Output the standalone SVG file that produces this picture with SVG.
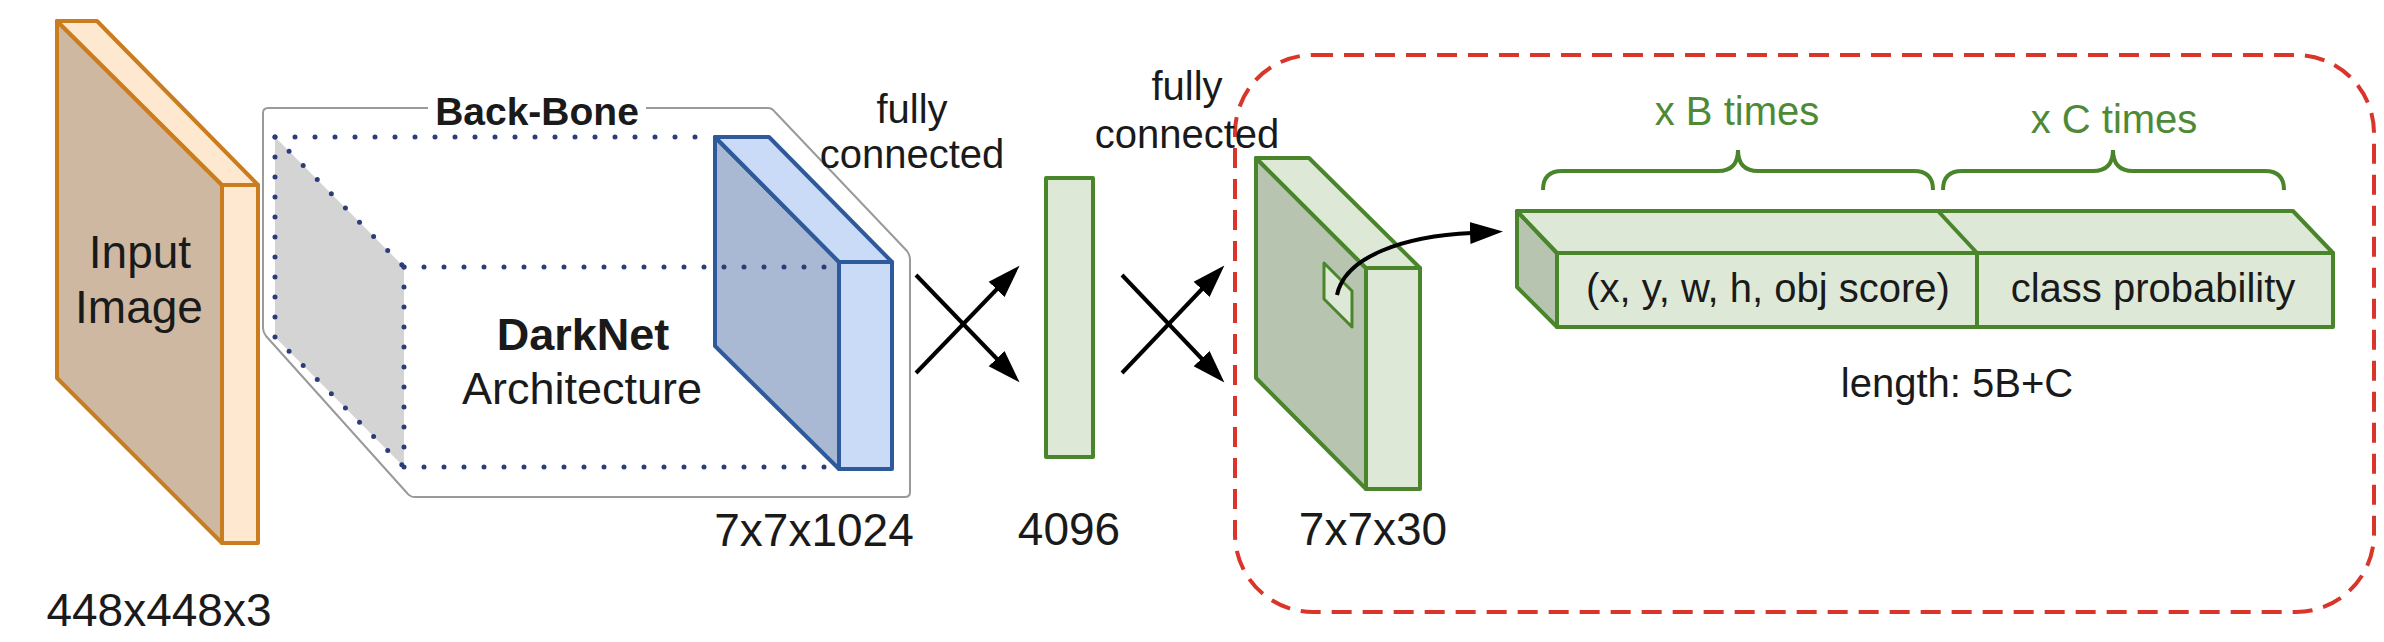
<svg xmlns="http://www.w3.org/2000/svg" width="2384" height="642" viewBox="0 0 2384 642">
<defs>
<style>
.t{font-family:"Liberation Sans",Arial,sans-serif;fill:#1a1a1a;text-anchor:middle}
.g{fill:#4e8a35}
.b{font-weight:bold}
.or{stroke:#c97d1f;stroke-width:4;stroke-linejoin:round}
.bl{stroke:#2e5a9c;stroke-width:4;stroke-linejoin:round}
.gr{stroke:#4a852b;stroke-width:4;stroke-linejoin:round}
.lg{fill:#dde9d6}
.dg{fill:#b7c4b0}
.dot{fill:none;stroke:#2a3d7a;stroke-width:5;stroke-linecap:round;stroke-dasharray:0 20}
.arr{fill:none;stroke:#000;stroke-width:4}
</style>
<marker id="ah" markerUnits="userSpaceOnUse" viewBox="0 -12 34 24" markerWidth="34" markerHeight="24" refX="2" refY="0" orient="auto">
<path d="M0,-11 L33,0 L0,11 Z" fill="#000"/>
</marker>
</defs>
<rect width="2384" height="642" fill="#fff"/>

<g id="input-image">
<polygon class="or" points="57,21 222,185 222,543 57,378" fill="#cfb8a2"/>
<polygon class="or" points="57,21 97,21 258,185 222,185" fill="#fee8cf"/>
<rect class="or" x="222" y="185" width="36" height="358" fill="#fee8cf"/>
<text class="t" x="140" y="268" font-size="46">Input</text>
<text class="t" x="139" y="323" font-size="46">Image</text>
<text class="t" x="159" y="626" font-size="46">448x448x3</text>
</g>

<g id="backbone">
<path d="M646,108 L768,108 Q772,108 775,112 L907,251 Q910,255 910,260 L910,492 Q910,497 905,497 L415,497 Q410,497 407,493 L266,336 Q263,332 263,328 L263,113 Q263,108 268,108 L428,108" fill="#fff" stroke="#9a9a9a" stroke-width="2"/>
<text class="t b" x="537" y="125" font-size="39">Back-Bone</text>
<polygon points="275,137 404,267 404,467 275,337" fill="#d4d4d4"/>
<path class="dot" d="M275,137 L715,137"/>
<path class="dot" d="M275,137 L404,267 M275,337 L404,467 M275,137 L275,337 M404,267 L404,467 M404,467 L839,467"/>
<polygon class="bl" points="715,137 839,262 839,469 715,346" fill="#a9b8d3"/>
<polygon class="bl" points="715,137 769,137 892,262 839,262" fill="#c9dbf7"/>
<rect class="bl" x="839" y="262" width="53" height="207" fill="#c9dbf7"/>
<path class="dot" d="M404,267 L839,267"/>
<text class="t b" x="583" y="350" font-size="45">DarkNet</text>
<text class="t" x="582" y="404" font-size="45">Architecture</text>
<text class="t" x="814" y="546" font-size="46">7x7x1024</text>
</g>

<g id="fc-4096">
<rect class="gr lg" x="1046" y="178" width="47" height="279"/>
<text class="t" x="1069" y="545" font-size="46">4096</text>
</g>

<g id="output-region">
<rect x="1235" y="55" width="1139" height="557" rx="78" ry="78" fill="none" stroke="#d9352a" stroke-width="4" stroke-dasharray="20 11"/>
</g>

<g id="output-7x7x30">
<polygon class="gr dg" points="1256,158 1366,268 1366,489 1256,378"/>
<polygon class="gr lg" points="1256,158 1309,158 1420,268 1366,268"/>
<rect class="gr lg" x="1366" y="268" width="54" height="221"/>
<polygon class="lg" points="1324,263 1352,291 1352,327 1324,299" stroke="#4a852b" stroke-width="3" stroke-linejoin="round"/>
<text class="t" x="1373" y="545" font-size="46">7x7x30</text>
</g>

<g id="cell-vector">
<polygon class="gr dg" points="1517,211 1557,253 1557,327 1517,287"/>
<polygon class="gr lg" points="1517,211 2293,211 2333,253 1557,253"/>
<rect class="gr lg" x="1557" y="253" width="776" height="74"/>
<line class="gr" x1="1938" y1="211" x2="1977" y2="253"/>
<line class="gr" x1="1977" y1="253" x2="1977" y2="327"/>
<text class="t" x="1768" y="302" font-size="40">(x, y, w, h, obj score)</text>
<text class="t" x="2153" y="302" font-size="40">class probability</text>
<text class="t" x="1957" y="397" font-size="40">length: 5B+C</text>
<path d="M1543,190 Q1543,171 1562,171 L1718,171 Q1738,171 1738,150 Q1738,171 1758,171 L1914,171 Q1933,171 1933,190" fill="none" stroke="#4a852b" stroke-width="4"/>
<path d="M1943,190 Q1943,171 1962,171 L2093,171 Q2113,171 2113,150 Q2113,171 2133,171 L2265,171 Q2284,171 2284,190" fill="none" stroke="#4a852b" stroke-width="4"/>
<text class="t g" x="1737" y="125" font-size="40">x B times</text>
<text class="t g" x="2114" y="133" font-size="40">x C times</text>
</g>

<g id="connectors">
<text class="t" x="912" y="123" font-size="40">fully</text>
<text class="t" x="912" y="168" font-size="40">connected</text>
<text class="t" x="1187" y="100" font-size="40">fully</text>
<text class="t" x="1187" y="148" font-size="40">connected</text>
<line class="arr" x1="916" y1="275" x2="998" y2="360" marker-end="url(#ah)"/>
<line class="arr" x1="916" y1="373" x2="998" y2="288" marker-end="url(#ah)"/>
<line class="arr" x1="1122" y1="275" x2="1203" y2="360" marker-end="url(#ah)"/>
<line class="arr" x1="1122" y1="373" x2="1203" y2="288" marker-end="url(#ah)"/>
<path class="arr" d="M1337,295 C1345,256 1405,236 1472,233" marker-end="url(#ah)"/>
</g>
</svg>
